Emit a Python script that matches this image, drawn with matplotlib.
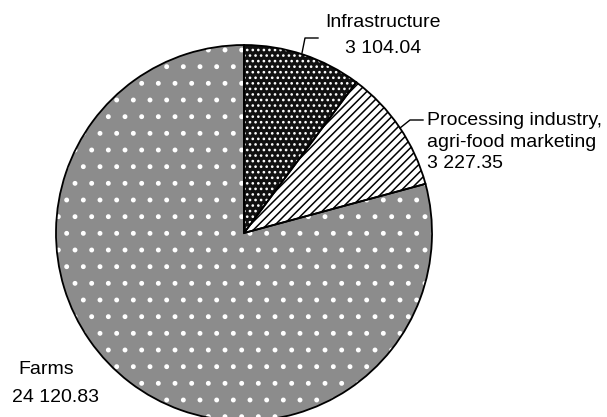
import matplotlib
matplotlib.use('Agg')
import matplotlib.pyplot as plt

# =========================================
# Data
# =========================================

categories = ['Infrastructure', 'Processing industry,\nagri-food marketing', 'Farms']
values = [3104.04, 3227.35, 24120.83]
value_labels = ['3 104.04', '3 227.35', '24 120.83']

face_colors = ['#111111', 'white', '#8c8c8c']
hatch_colors = ['white', 'black', 'white']
hatches = ['...', '////', '.']

plt.rcParams['font.family'] = ['Liberation Sans', 'DejaVu Sans']
plt.rcParams['hatch.linewidth'] = 1.1

W, H = 607, 417
fig = plt.figure(figsize=(W / 100, H / 100), dpi=100)

# pie centre and radius in pixels
cx, cy, r = 244, 233, 188
ax = fig.add_axes([(cx - r) / W, (H - cy - r) / H, 2 * r / W, 2 * r / H])

wedges, _ = ax.pie(values, startangle=90, counterclock=False, radius=1,
                   colors=face_colors)
for w, hc, h in zip(wedges, hatch_colors, hatches):
    w.set_hatch(h)
    w.set_edgecolor(hc)
    w.set_linewidth(0)

# outlines
ax.pie(values, startangle=90, counterclock=False, radius=1,
       wedgeprops=dict(fill=False, edgecolor='black', linewidth=1.3))

ax.set_xlim(-1, 1)
ax.set_ylim(-1, 1)
ax.axis('off')


def px(x, y):
    return (x - cx) / r, (cy - y) / r


fs = 14

# leader lines
ax.plot(*zip(px(302, 53), px(305, 38), px(318, 38)), color='black', lw=1, clip_on=False)
ax.plot(*zip(px(400, 128), px(410, 120), px(423, 120)), color='black', lw=1, clip_on=False)

# Infrastructure
ax.text(*px(383, 22), categories[0], ha='center', va='center', fontsize=fs)
ax.text(*px(383, 48), value_labels[0], ha='center', va='center', fontsize=fs)

# Processing
ax.text(*px(427, 142), categories[1] + '\n' + value_labels[1], ha='left', va='center',
        fontsize=fs, linespacing=1.35)

# Farms
ax.text(*px(18, 369), categories[2], ha='left', va='center', fontsize=fs)
ax.text(*px(12, 397), value_labels[2], ha='left', va='center', fontsize=fs)

fig.savefig('out.png', dpi=100)
